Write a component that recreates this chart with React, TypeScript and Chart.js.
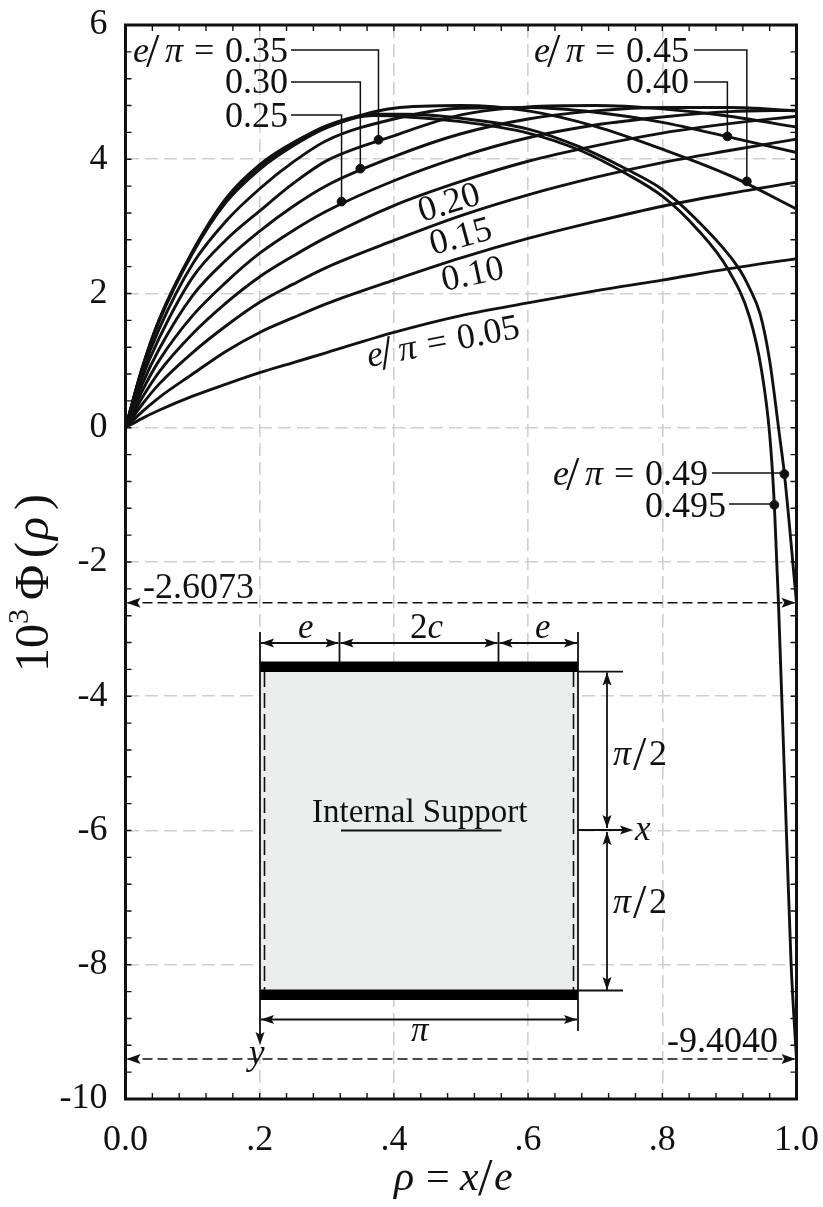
import React, { useEffect, useRef } from "react";
import { Chart, registerables } from "chart.js";

Chart.register(...registerables);

const rho = [0, 0.025, 0.05, 0.1, 0.15, 0.2, 0.25, 0.3, 0.4, 0.5, 0.6, 0.7, 0.8, 0.9, 1];
const s05 = [0, 0.14, 0.26, 0.47, 0.65, 0.82, 0.97, 1.12, 1.42, 1.67, 1.86, 2.04, 2.2, 2.37, 2.52];
const s10 = [0, 0.24, 0.45, 0.8, 1.14, 1.42, 1.64, 1.85, 2.2, 2.53, 2.82, 3.07, 3.3, 3.49, 3.66];
const s15 = [0, 0.35, 0.65, 1.12, 1.52, 1.87, 2.14, 2.39, 2.79, 3.16, 3.47, 3.73, 3.95, 4.13, 4.3];
const s20 = [0, 0.45, 0.83, 1.4, 1.86, 2.25, 2.56, 2.84, 3.31, 3.67, 3.97, 4.2, 4.39, 4.53, 4.64];
const s25 = [0, 0.55, 1.0, 1.67, 2.17, 2.6, 2.94, 3.23, 3.68, 4.04, 4.32, 4.51, 4.63, 4.71, 4.73];
const s30 = [0, 0.65, 1.17, 1.97, 2.5, 2.93, 3.3, 3.61, 4.04, 4.38, 4.6, 4.72, 4.77, 4.77, 4.72];
const s35 = [0, 0.75, 1.33, 2.24, 2.8, 3.23, 3.64, 3.98, 4.35, 4.66, 4.78, 4.8, 4.75, 4.64, 4.48];
const s40 = [0, 0.83, 1.47, 2.44, 3.08, 3.56, 3.96, 4.28, 4.6, 4.76, 4.77, 4.7, 4.55, 4.33, 4.1];
const s45 = [0, 0.88, 1.58, 2.6, 3.36, 3.85, 4.2, 4.47, 4.76, 4.8, 4.72, 4.49, 4.15, 3.76, 3.26];

const rho49 = [0, 0.025, 0.05, 0.1, 0.15, 0.2, 0.25, 0.3, 0.37, 0.42, 0.5, 0.6, 0.678, 0.747, 0.8, 0.85, 0.913, 0.93, 0.946, 0.96, 0.975, 0.982, 1];
const s49 = [0, 0.89, 1.6, 2.62, 3.4, 3.9, 4.24, 4.5, 4.67, 4.67, 4.61, 4.45, 4.18, 3.85, 3.55, 3.11, 2.39, 2.08, 1.69, 1.0, -0.14, -0.69, -2.6073];
const rho495 = [0, 0.025, 0.05, 0.1, 0.15, 0.2, 0.25, 0.3, 0.37, 0.42, 0.5, 0.6, 0.678, 0.747, 0.8, 0.85, 0.898, 0.93, 0.948, 0.96, 0.967, 0.973, 0.985, 0.992, 1];
const s495 = [0, 0.9, 1.61, 2.63, 3.42, 3.92, 4.25, 4.48, 4.65, 4.63, 4.56, 4.39, 4.13, 3.78, 3.45, 2.98, 2.36, 1.65, 0.85, -0.1, -1.15, -2.58, -6.03, -8.0, -9.404];

const dotRho = [0.322, 0.35, 0.377, 0.897, 0.926, 0.982, 0.967];
const dotPhi = [3.37, 3.86, 4.29, 4.34, 3.67, -0.69, -1.15];

const xTickLabels = ["0.0", ".2", ".4", ".6", ".8", "1.0"];
const yTickValues = [6, 4, 2, 0, -2, -4, -6, -8, -10];

const SERIF = '"Liberation Serif", "Times New Roman", serif';

type Run = { t: string; size?: number; it?: boolean; x?: number; dy?: number };

function runs(ctx: CanvasRenderingContext2D, x: number, y: number, rot: number, list: Run[], base: number) {
  ctx.save();
  ctx.translate(x, y);
  ctx.rotate((rot * Math.PI) / 180);
  ctx.fillStyle = "#111";
  ctx.textAlign = "left";
  ctx.textBaseline = "alphabetic";
  let cx = 0;
  for (const r of list) {
    ctx.font = `${r.it ? "italic " : ""}${r.size ?? base}px ${SERIF}`;
    if (r.x !== undefined) cx = r.x;
    ctx.fillText(r.t, cx, r.dy ?? 0);
    cx += ctx.measureText(r.t).width;
  }
  ctx.restore();
}

function eOverPi(ctx: CanvasRenderingContext2D, x: number, y: number, rot: number, val: string) {
  runs(ctx, x, y, rot, [
    { t: "e", it: true, x: 0 },
    { t: "/", size: 48, x: 13, dy: 5 },
    { t: "\u03c0", it: true, x: 32 },
    { t: "=", x: 61 },
    { t: val, x: 92 },
  ], 36);
}

function line(ctx: CanvasRenderingContext2D, pts: number[][], w = 1.6, dash: number[] = []) {
  ctx.save();
  ctx.strokeStyle = "#111";
  ctx.lineWidth = w;
  ctx.setLineDash(dash);
  ctx.beginPath();
  pts.forEach((p, i) => (i ? ctx.lineTo(p[0], p[1]) : ctx.moveTo(p[0], p[1])));
  ctx.stroke();
  ctx.restore();
}

function head(ctx: CanvasRenderingContext2D, x: number, y: number, dx: number, dy: number, len = 13, hw = 4.5) {
  ctx.save();
  ctx.fillStyle = "#111";
  ctx.beginPath();
  ctx.moveTo(x, y);
  ctx.lineTo(x - dx * len - dy * hw, y - dy * len - dx * hw);
  ctx.lineTo(x - dx * len * 0.8, y - dy * len * 0.8);
  ctx.lineTo(x - dx * len + dy * hw, y - dy * len + dx * hw);
  ctx.closePath();
  ctx.fill();
  ctx.restore();
}

function hDim(ctx: CanvasRenderingContext2D, x1: number, x2: number, y: number) {
  line(ctx, [[x1, y], [x2, y]], 1.8);
  head(ctx, x1, y, -1, 0);
  head(ctx, x2, y, 1, 0);
}
function vDim(ctx: CanvasRenderingContext2D, x: number, y1: number, y2: number) {
  line(ctx, [[x, y1], [x, y2]], 1.8);
  head(ctx, x, y1, 0, -1);
  head(ctx, x, y2, 0, 1);
}

const overlay = {
  id: "overlay",
  afterDatasetsDraw(chart: any) {
    const ctx: CanvasRenderingContext2D = chart.ctx;
    const xs = chart.scales.x;
    const ys = chart.scales.y;
    const area = chart.chartArea;

    // inward ticks on all four sides
    ctx.save();
    ctx.strokeStyle = "#111";
    ctx.lineWidth = 1.4;
    ctx.beginPath();
    for (let i = 0; i <= 25; i++) {
      const px = xs.getPixelForValue(i * 0.04);
      ctx.moveTo(px, area.top); ctx.lineTo(px, area.top + 6);
      ctx.moveTo(px, area.bottom); ctx.lineTo(px, area.bottom - 6);
    }
    for (let i = 0; i <= 40; i++) {
      const py = ys.getPixelForValue(6 - i * 0.4);
      ctx.moveTo(area.left, py); ctx.lineTo(area.left + 6, py);
      ctx.moveTo(area.right, py); ctx.lineTo(area.right - 6, py);
    }
    ctx.stroke();
    ctx.restore();

    // frame
    ctx.save();
    ctx.strokeStyle = "#111";
    ctx.lineWidth = 3;
    ctx.strokeRect(area.left, area.top, area.right - area.left, area.bottom - area.top);
    ctx.restore();

    // leaders
    const dot = (i: number) => [xs.getPixelForValue(dotRho[i]), ys.getPixelForValue(dotPhi[i])];
    const leader = (i: number, xStart: number, yPx: number) => {
      const [dx, dy] = dot(i);
      line(ctx, [[xStart, yPx], [dx, yPx], [dx, dy]], 1.5);
    };
    leader(2, 291, 50);
    leader(1, 291, 82);
    leader(0, 291, 115);
    leader(4, 694, 50);
    leader(3, 694, 82);
    leader(5, 712, 473);
    leader(6, 729, 504);

    eOverPi(ctx, 133, 62, 0, "0.35");
    runs(ctx, 225, 93, 0, [{ t: "0.30" }], 36);
    runs(ctx, 225, 127, 0, [{ t: "0.25" }], 36);
    eOverPi(ctx, 534, 62, 0, "0.45");
    runs(ctx, 626, 93, 0, [{ t: "0.40" }], 36);
    eOverPi(ctx, 553, 485, 0, "0.49");
    runs(ctx, 645, 517, 0, [{ t: "0.495" }], 36);

    runs(ctx, 422, 222, -17, [{ t: "0.20" }], 36);
    runs(ctx, 433, 255, -15, [{ t: "0.15" }], 36);
    runs(ctx, 444, 291, -12, [{ t: "0.10" }], 36);
    eOverPi(ctx, 369, 367, -11, "0.05");

    // reference levels
    const yA = ys.getPixelForValue(s49[s49.length - 1]);
    const yB = ys.getPixelForValue(s495[s495.length - 1]);
    for (const yy of [yA, yB]) {
      line(ctx, [[area.left + 2, yy], [area.right - 2, yy]], 1.6, [10, 5]);
      head(ctx, area.left + 1, yy, -1, 0, 14, 5);
      head(ctx, area.right - 1, yy, 1, 0, 14, 5);
    }
    runs(ctx, 143, 598, 0, [{ t: "-2.6073" }], 36);
    runs(ctx, 667, 1052, 0, [{ t: "-9.4040" }], 36);

    // inset diagram
    ctx.fillStyle = "#eceeee";
    ctx.fillRect(260, 672, 318, 318);
    ctx.fillStyle = "#000";
    ctx.fillRect(260, 661.5, 318, 10.5);
    ctx.fillRect(260, 989.5, 318, 10.5);
    line(ctx, [[264.5, 672], [264.5, 990]], 1.6, [15, 6]);
    line(ctx, [[573.5, 672], [573.5, 990]], 1.6, [15, 6]);
    line(ctx, [[260, 632], [260, 1035]], 1.8);
    head(ctx, 260, 1045, 0, 1);
    line(ctx, [[578, 632], [578, 1031]], 1.8);
    line(ctx, [[339.5, 632], [339.5, 662]], 1.8);
    line(ctx, [[498.5, 632], [498.5, 662]], 1.8);
    hDim(ctx, 261, 338.5, 643);
    hDim(ctx, 340.5, 497.5, 643);
    hDim(ctx, 499.5, 577, 643);
    line(ctx, [[578, 671.7], [623, 671.7]], 1.8);
    line(ctx, [[578, 990.5], [623, 990.5]], 1.8);
    vDim(ctx, 607, 672.5, 828);
    vDim(ctx, 607, 832, 990);
    line(ctx, [[578, 830], [625, 830]], 1.8);
    head(ctx, 633, 830, 1, 0);
    hDim(ctx, 261, 577, 1019.5);
    line(ctx, [[341, 830.5], [501.5, 830.5]], 2);

    runs(ctx, 298, 638, 0, [{ t: "e", it: true }], 35);
    runs(ctx, 535, 638, 0, [{ t: "e", it: true }], 35);
    runs(ctx, 410, 638, 0, [{ t: "2" }, { t: "c", it: true }], 35);
    runs(ctx, 635, 840, 0, [{ t: "x", it: true }], 35);
    runs(ctx, 249, 1064, 0, [{ t: "y", it: true }], 35);
    runs(ctx, 411, 1041, 0, [{ t: "\u03c0", it: true }], 35);
    const piTwo: Run[] = [
      { t: "\u03c0", it: true, x: 0 },
      { t: "/", size: 48, x: 20, dy: 5 },
      { t: "2", x: 36 },
    ];
    runs(ctx, 613, 765, 0, piTwo, 36);
    runs(ctx, 613, 913, 0, piTwo, 36);
    runs(ctx, 312, 822, 0, [{ t: "Internal Support" }], 33);

    // axis titles
    runs(ctx, 48, 672, -90, [
      { t: "10", x: 0 },
      { t: "3", size: 30, x: 48, dy: -20 },
      { t: "\u03a6", x: 72 },
      { t: "(", x: 114 },
      { t: "\u03c1", it: true, x: 132 },
      { t: ")", x: 162 },
    ], 48);
    runs(ctx, 394, 1190, 0, [
      { t: "\u03c1", it: true, x: 0 },
      { t: "=", x: 32 },
      { t: "x", it: true, x: 66 },
      { t: "/", size: 52, x: 84, dy: 5 },
      { t: "e", it: true, x: 100 },
    ], 42);
  },
};

export default function App() {
  const ref = useRef<HTMLCanvasElement>(null);
  useEffect(() => {
    document.body.style.margin = "0";
    const curves = [s05, s10, s15, s20, s25, s30, s35, s40, s45];
    const names = ["0.05", "0.10", "0.15", "0.20", "0.25", "0.30", "0.35", "0.40", "0.45"];
    const style = {
      type: "line",
      borderColor: "#111",
      borderWidth: 2.9,
      pointRadius: 0,
      fill: false,
      cubicInterpolationMode: "monotone",
    };
    const datasets: any[] = curves.map((c, i) => ({
      ...style,
      label: names[i],
      data: rho.map((r, j) => ({ x: r, y: c[j] })),
    }));
    datasets.push({ ...style, label: "0.49", data: rho49.map((r, j) => ({ x: r, y: s49[j] })) });
    datasets.push({ ...style, label: "0.495", data: rho495.map((r, j) => ({ x: r, y: s495[j] })) });
    datasets.push({
      type: "scatter",
      label: "markers",
      data: dotRho.map((r, j) => ({ x: r, y: dotPhi[j] })),
      pointRadius: 4.4,
      backgroundColor: "#111",
      borderColor: "#111",
      showLine: false,
    });
    const tickFont = { family: SERIF, size: 36 };
    const noPad = (s: any) => {
      s.paddingLeft = 0;
      s.paddingRight = 0;
      s.paddingTop = 0;
      s.paddingBottom = 0;
    };
    const chart = new Chart(ref.current as HTMLCanvasElement, {
      type: "line",
      data: { datasets },
      plugins: [overlay],
      options: {
        animation: false,
        responsive: false,
        parsing: false,
        normalized: true,
        layout: { autoPadding: false, padding: { top: 25, right: 26.5, left: 0, bottom: 0 } },
        plugins: { legend: { display: false }, tooltip: { enabled: false }, title: { display: false } },
        scales: {
          x: {
            type: "linear",
            min: 0,
            max: 1,
            afterFit(s: any) { s.height = 108; noPad(s); },
            afterBuildTicks(s: any) { s.ticks = xTickLabels.map((_, i) => ({ value: i * 0.2 })); },
            ticks: {
              autoSkip: false,
              maxRotation: 0,
              padding: 20,
              color: "#111",
              font: tickFont,
              callback: (_v: any, i: number) => xTickLabels[i],
            },
            grid: { color: "#cfcfcf", lineWidth: 1.6, drawTicks: false },
            border: { display: false, dash: [13, 6] },
          },
          y: {
            type: "linear",
            min: -10,
            max: 6,
            afterFit(s: any) { s.width = 125.5; noPad(s); },
            afterBuildTicks(s: any) { s.ticks = yTickValues.map((v) => ({ value: v })); },
            ticks: {
              autoSkip: false,
              padding: 18,
              color: "#111",
              font: tickFont,
              callback: (v: any) => String(v),
            },
            grid: { color: "#cfcfcf", lineWidth: 1.6, drawTicks: false },
            border: { display: false, dash: [13, 6] },
          },
        },
      } as any,
    } as any);
    return () => chart.destroy();
  }, []);
  return <canvas ref={ref} width={823} height={1207} style={{ display: "block" }} />;
}
